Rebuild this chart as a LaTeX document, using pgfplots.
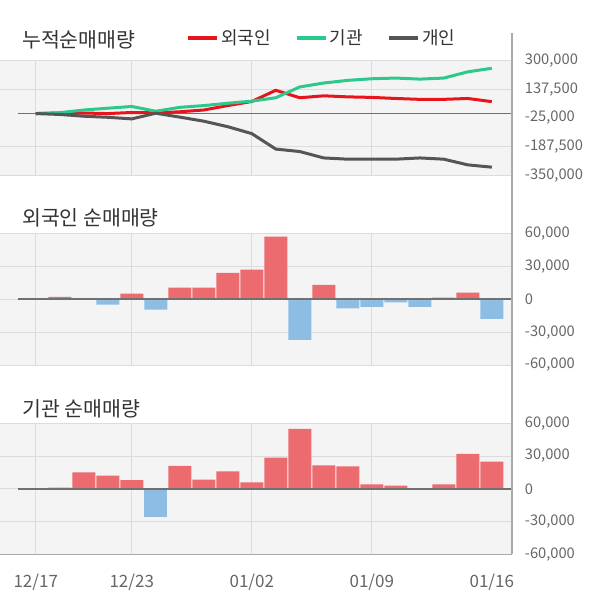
\documentclass[border=0pt]{standalone}
\usepackage{fontspec}
\setmainfont{Noto Sans CJK KR}
\usepackage{pgfplots}
\pgfplotsset{compat=1.18}
\definecolor{redline}{HTML}{E8141C}
\definecolor{greenline}{HTML}{2DC88C}
\definecolor{darkline}{HTML}{555555}
\definecolor{redbar}{HTML}{EB6B6E}
\definecolor{bluebar}{HTML}{8EBDE3}
\definecolor{bgc}{HTML}{F4F4F4}
\definecolor{gridc}{HTML}{DCDCDC}
\definecolor{zeroc}{HTML}{707070}
\definecolor{labc}{HTML}{666666}
\definecolor{titc}{HTML}{333333}
\definecolor{axc}{HTML}{AAAAAA}
\pgfplotsset{panel/.style={
  scale only axis, width=511.7pt, xmin=-1.49, xmax=19.83,
  axis background/.style={fill=bgc},
  axis line style={draw=none},
  major tick length=0pt,
  xtick={0,4,9,14}, xmajorgrids, ymajorgrids,
  grid style={gridc, line width=0.8pt},
  yticklabel pos=right, scaled y ticks=false,
  /pgf/number format/fixed, /pgf/number format/precision=0,
  /pgf/number format/1000 sep={,}, /pgf/number format/assume math mode=true,
  ticklabel style={font=\fontsize{14.7}{14.7}\selectfont, text=labc},
  yticklabel style={anchor=west, inner sep=0pt, xshift=13pt},
  xticklabels={},
}}
\begin{document}
\begin{tikzpicture}
\useasboundingbox (0pt,0pt) rectangle (600pt,-604pt);
% ---------- cumulative panel
\begin{axis}[panel, at={(0pt,-60.3pt)}, anchor=north west, height=115.4pt,
  ymin=-350000, ymax=300000,
  ytick={300000,137500,-187500,-350000},
  extra y ticks={-25000}, extra y tick style={grid=none},
  legend columns=3,
  legend style={at={(0.3635,1.193)}, anchor=west, draw=none, fill=none, inner sep=0pt,
    font=\fontsize{18}{18}\selectfont, text=titc,
    /tikz/every even column/.append style={column sep=22pt}},
  legend image code/.code={\draw[#1, line width=4pt] (-3.5pt,0pt) -- (25.5pt,0pt);},
  legend cell align=left]
\addplot[zeroc, line width=1.6pt, forget plot] coordinates {(-0.74,0) (19.83,0)};
\addplot[redline, line width=3pt] coordinates {
(0,0) (1,3000) (2,3000) (3,0) (4,6000) (5,4000) (6,10000) (7,20000) (8,45000) (9,68000)
(10,131000) (11,89000) (12,100000) (13,94000) (14,91000) (15,85000) (16,80000) (17,80000) (18,85000) (19,67000)};
\addlegendentry{외국인}
\addplot[greenline, line width=3pt] coordinates {
(0,0) (1,5000) (2,20000) (3,30000) (4,40000) (5,13000) (6,35000) (7,45000) (8,58000) (9,70000)
(10,89000) (11,150000) (12,172000) (13,187000) (14,196000) (15,200000) (16,194000) (17,200000) (18,235000) (19,255000)};
\addlegendentry{기관}
\addplot[darkline, line width=3pt] coordinates {
(0,0) (1,-5000) (2,-15000) (3,-21000) (4,-30000) (5,2000) (6,-20000) (7,-43000) (8,-74000) (9,-113000)
(10,-200000) (11,-214000) (12,-250000) (13,-257000) (14,-257000) (15,-257000) (16,-250000) (17,-257000) (18,-289000) (19,-302000)};
\addlegendentry{개인}
\end{axis}
% ---------- foreign panel
\begin{axis}[panel, at={(0pt,-233.3pt)}, anchor=north west, height=131.7pt,
  ymin=-60000, ymax=60000, ytick={-60000,-30000,0,30000,60000}]
\addplot[ybar, bar width=23pt, bar shift=0pt, fill=redbar, draw=none] coordinates {
(1,2000) (4,5000) (6,10500) (7,10500) (8,24000) (9,27000) (10,57000) (12,13000) (17,1500) (18,6000)};
\addplot[ybar, bar width=23pt, bar shift=0pt, fill=bluebar, draw=none] coordinates {
(3,-5000) (5,-9500) (11,-37000) (13,-8500) (14,-7000) (15,-3000) (16,-7000) (19,-18000)};
\addplot[zeroc, line width=1.6pt] coordinates {(-0.74,0) (19.83,0)};
\end{axis}
% ---------- institution panel
\begin{axis}[panel, at={(0pt,-423.3pt)}, anchor=north west, height=131pt,
  ymin=-60000, ymax=60000, ytick={-60000,-30000,0,30000,60000},
  xticklabels={12/17,12/23,01/02,01/09},
  extra x ticks={19}, extra x tick labels={01/16}, extra x tick style={grid=none},
  xticklabel style={yshift=-16pt, font=\fontsize{17}{17}\selectfont}]
\addplot[ybar, bar width=23pt, bar shift=0pt, fill=redbar, draw=none] coordinates {
(1,1000) (2,15000) (3,12000) (4,8000) (6,21000) (7,8500) (8,16000) (9,6000) (10,28500)
(11,55000) (12,21500) (13,20500) (14,4000) (15,3000) (17,4000) (18,32000) (19,25000)};
\addplot[ybar, bar width=23pt, bar shift=0pt, fill=bluebar, draw=none] coordinates {
(5,-26000)};
\addplot[zeroc, line width=1.6pt] coordinates {(-0.74,0) (19.83,0)};
\end{axis}
% titles and frame lines
\node[anchor=west, text=titc, font=\fontsize{20.5}{20.5}\selectfont, inner sep=0pt] at (22pt,-40pt) {누적순매매량};
\node[anchor=west, text=titc, font=\fontsize{20.5}{20.5}\selectfont, inner sep=0pt] at (22pt,-218pt) {외국인 순매매량};
\node[anchor=west, text=titc, font=\fontsize{20.5}{20.5}\selectfont, inner sep=0pt] at (22pt,-409pt) {기관 순매매량};
\draw[axc, line width=1.6pt] (511.7pt,-33pt) -- (511.7pt,-554.3pt);
\draw[axc, line width=1.6pt] (0pt,-554.3pt) -- (511.7pt,-554.3pt);
\end{tikzpicture}
\end{document}
